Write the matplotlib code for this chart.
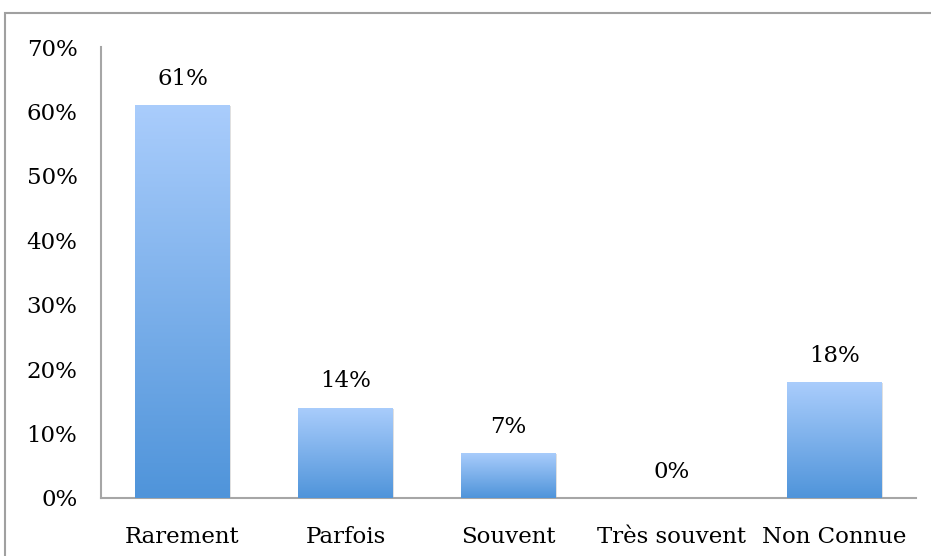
import matplotlib
matplotlib.use('Agg')
import matplotlib.pyplot as plt
import numpy as np
from matplotlib.patches import Rectangle
from matplotlib.colors import LinearSegmentedColormap

categories = ['Rarement', 'Parfois', 'Souvent', 'Très souvent', 'Non Connue']
values = [0.61, 0.14, 0.07, 0.0, 0.18]
yticks = [0, 0.1, 0.2, 0.3, 0.4, 0.5, 0.6, 0.7]
ytick_labels = ['0%', '10%', '20%', '30%', '40%', '50%', '60%', '70%']

plt.rcParams['font.family'] = ['DejaVu Serif']
W, H = 931, 556
fig = plt.figure(figsize=(W / 100, H / 100), dpi=100, facecolor='white')
ax = fig.add_axes([101 / W, 1 - 498 / H, 815 / W, 451 / H])

# outer chart frame
fig.patches.append(Rectangle((5 / W, -0.01), 1.02, 1 - 13 / H + 0.01, transform=fig.transFigure,
                             fill=False, edgecolor='#a0a0a0', linewidth=1.5))

x = np.arange(len(categories))
bars = ax.bar(x, values, width=0.577, color='none', edgecolor='none', zorder=2)

cmap = LinearSegmentedColormap.from_list('grad', ['#4f94da', '#aacdfc'])
grad = np.linspace(0, 1, 256).reshape(-1, 1)
for b in bars:
    if b.get_height() <= 0:
        continue
    x0, w, h = b.get_x(), b.get_width(), b.get_height()
    # soft shadow
    ax.add_patch(Rectangle((x0 + 0.01, 0), w, h - 0.002, facecolor='#000000', alpha=0.12,
                           edgecolor='none', zorder=1))
    im = ax.imshow(grad, cmap=cmap, origin='lower', aspect='auto',
                   extent=(x0, x0 + w, 0, h), zorder=3)
    im.set_clip_path(b)

fs = 16.5
for xi, v in zip(x, values):
    ax.annotate('%d%%' % round(v * 100), (xi, v), xytext=(0, 19), textcoords='offset points',
                ha='center', va='center', fontsize=fs, color='black')

ax.set_xlim(-0.5, len(categories) - 0.5)
ax.set_ylim(0, 0.7)
ax.set_xticks(x)
ax.set_xticklabels(categories, fontsize=fs)
ax.set_yticks(yticks)
ax.set_yticklabels(ytick_labels, fontsize=fs)
ax.tick_params(axis='x', length=0, pad=20)
ax.tick_params(axis='y', length=0, pad=17)
for s in ['top', 'right']:
    ax.spines[s].set_visible(False)
for s in ['left', 'bottom']:
    ax.spines[s].set_color('#a6a6a6')
    ax.spines[s].set_linewidth(1.5)

fig.savefig('out.png', dpi=100)
